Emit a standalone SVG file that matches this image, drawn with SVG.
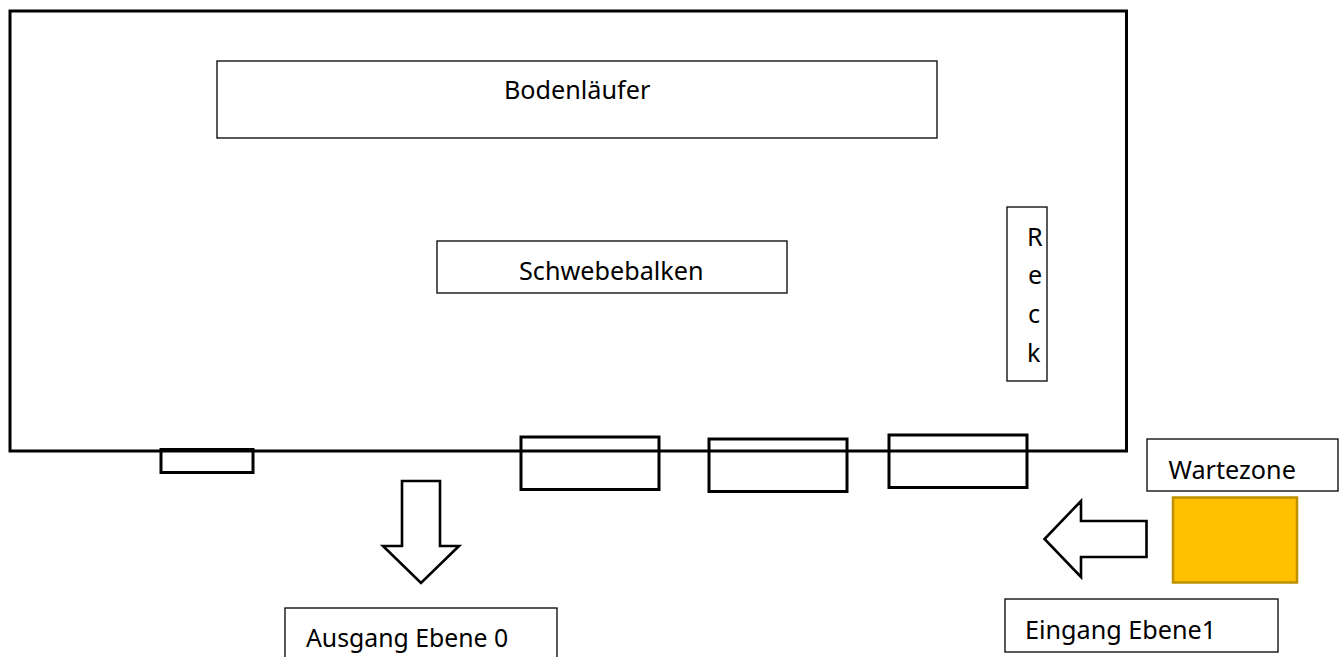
<svg xmlns="http://www.w3.org/2000/svg" width="1344" height="657" viewBox="0 0 1344 657">
<style>
.thin{fill:#fff;stroke:#000;stroke-width:1.3}
.thick{fill:none;stroke:#000;stroke-width:3}
.arrow{fill:#fff;stroke:#000;stroke-width:2.6;stroke-miterlimit:10}
text{font-family:"Noto Sans","Open Sans","Liberation Sans",sans-serif;font-size:25.200px;fill:#000}
</style>
<rect width="1344" height="657" fill="#fff"/>
<g id="hall"><rect class="thick" x="10" y="11" width="1116.500" height="440"/></g>
<g id="bodenlaeufer"><rect class="thin" x="217" y="61" width="720" height="77"/><text x="504" y="99">Bodenläufer</text></g>
<g id="schwebebalken"><rect class="thin" x="437" y="241" width="350" height="52"/><text x="519" y="279.500">Schwebebalken</text></g>
<g id="reck"><rect class="thin" x="1007" y="207" width="40" height="174"/><text x="1027" y="246">R</text><text x="1028" y="284">e</text><text x="1028" y="323">c</text><text x="1027" y="362">k</text></g>
<g id="door-exit"><rect class="thick" x="161" y="449.500" width="92" height="23"/></g>
<g id="door-1"><rect class="thick" x="521" y="437" width="138" height="52.500"/></g>
<g id="door-2"><rect class="thick" x="709" y="439" width="138" height="52.500"/></g>
<g id="door-3"><rect class="thick" x="889" y="435" width="138" height="52.500"/></g>
<g id="wartezone"><rect class="thin" x="1147" y="439" width="191" height="52"/><text x="1168.500" y="479">Wartezone</text></g>
<g id="wartezone-area"><rect x="1173" y="497.500" width="124" height="85" fill="#ffc000" stroke="#bf9000" stroke-width="2.500"/></g>
<g id="eingang"><rect class="thin" x="1005" y="599" width="273" height="53"/><text x="1025" y="639">Eingang Ebene1</text></g>
<g id="ausgang"><rect class="thin" x="285" y="608" width="272" height="60"/><text x="306" y="647" style="font-size:24.800px">Ausgang Ebene 0</text></g>
<g id="connectors">
<path class="arrow" d="M402 481H440V546H459L421 583L383 546H402Z"/>
<path class="arrow" d="M1146.500 521V557H1081V577L1044.500 539L1081 501V521Z"/>
</g>
</svg>
